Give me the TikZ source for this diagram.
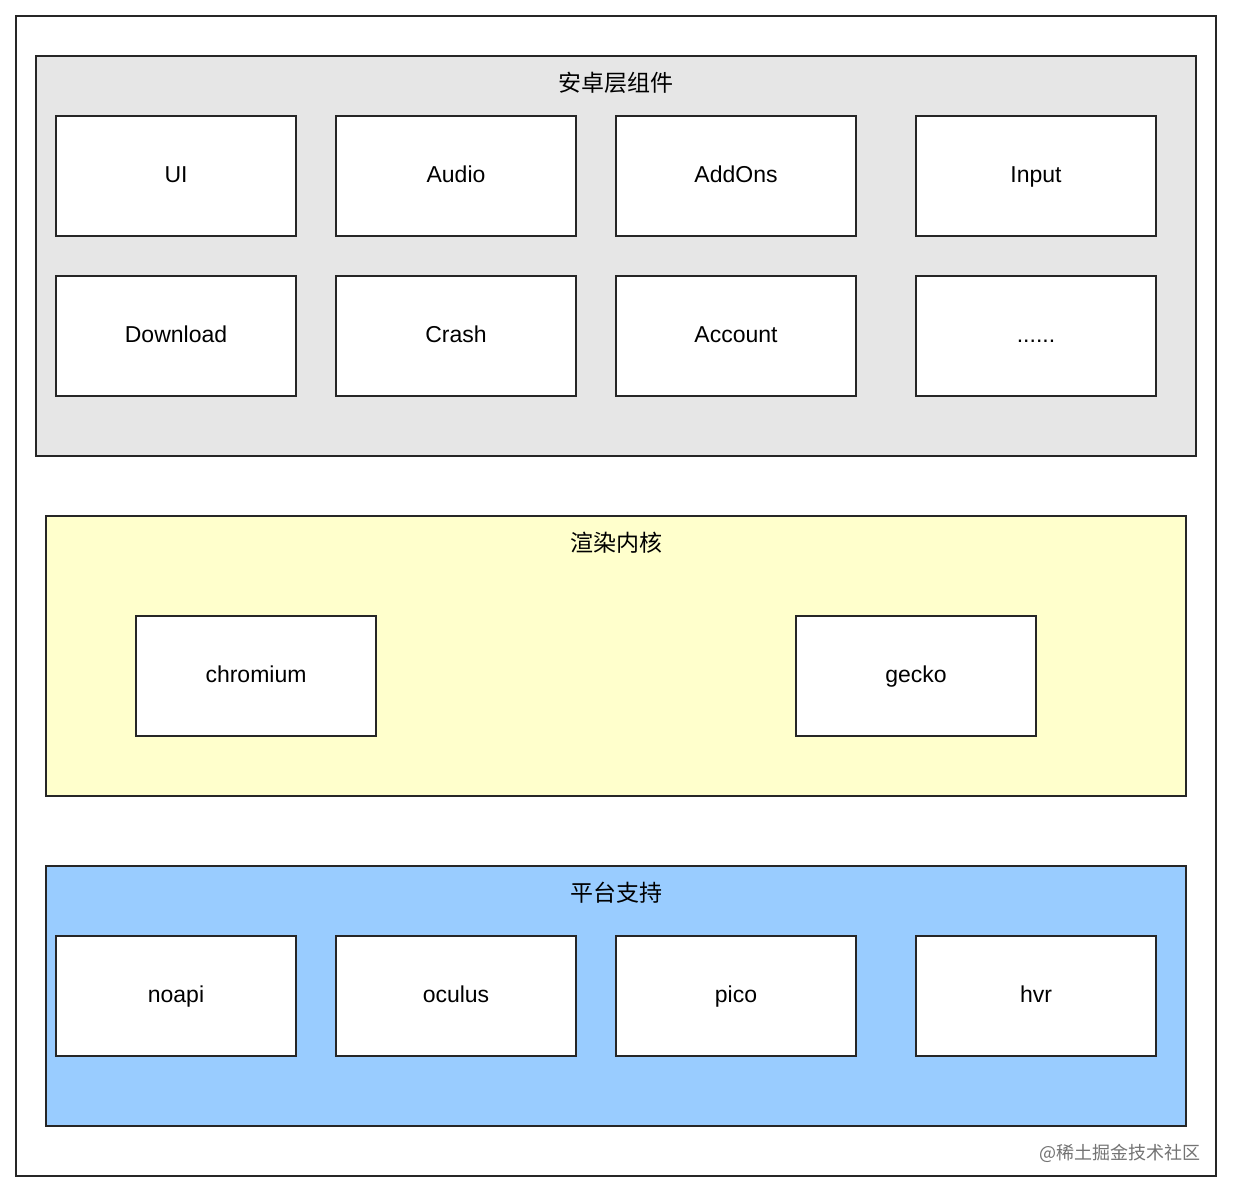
\documentclass[tikz,border=0pt]{standalone}
\usepackage{fontspec}
\setmainfont{Liberation Sans}
\newfontfamily\cjk{Noto Sans CJK SC}
\begin{document}
\begin{tikzpicture}[x=1pt,y=-1pt,
  comp/.style={draw=black!85,line width=1.5pt,fill=white,anchor=center,text height=16pt,text depth=4pt,font=\fontsize{23}{26}\selectfont},
  grp/.style={draw=black!85,line width=1.5pt},
  ttl/.style={font=\cjk\fontsize{23}{26}\selectfont}]
\useasboundingbox (0,0) rectangle (1234,1194);
\fill[white] (0,0) rectangle (1234,1194);
\newcommand\cbox[4]{\draw[comp] (#2,#3) rectangle ++(240,120); \node[comp,draw=none,fill=none] (#1) at (#2+120,#3+60) {#4};}
\draw[grp] (16,16) rectangle (1216,1176);
\draw[grp,fill={rgb,255:red,230;green,230;blue,230}] (36,56) rectangle (1196,456);
\node[ttl] (t1) at (616,83) {安卓层组件};
\cbox{ui}{56}{116}{UI}
\cbox{audio}{336}{116}{Audio}
\cbox{addons}{616}{116}{AddOns}
\cbox{input}{916}{116}{Input}
\cbox{dl}{56}{276}{Download}
\cbox{crash}{336}{276}{Crash}
\cbox{acct}{616}{276}{Account}
\cbox{more}{916}{276}{......}
\draw[grp,fill={rgb,255:red,255;green,255;blue,204}] (46,516) rectangle (1186,796);
\node[ttl] (t2) at (616,543) {渲染内核};
\cbox{chr}{136}{616}{chromium}
\cbox{gecko}{796}{616}{gecko}
\draw[grp,fill={rgb,255:red,153;green,204;blue,255}] (46,866) rectangle (1186,1126);
\node[ttl] (t3) at (616,893) {平台支持};
\cbox{noapi}{56}{936}{noapi}
\cbox{oculus}{336}{936}{oculus}
\cbox{pico}{616}{936}{pico}
\cbox{hvr}{916}{936}{hvr}
\node[font=\cjk\fontsize{18}{20}\selectfont,text=black!55,anchor=east] (wm) at (1204,1153) {@稀土掘金技术社区};
\end{tikzpicture}
\end{document}
